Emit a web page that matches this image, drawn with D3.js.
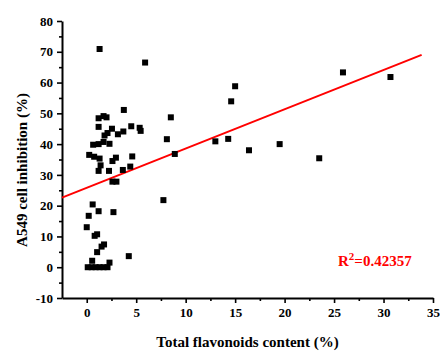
<!DOCTYPE html>
<html>
<head>
<meta charset="utf-8">
<script src="https://cdn.jsdelivr.net/npm/d3@7"></script>
<style>
  body { margin: 0; background: #fff; }
  text { font-family: "Liberation Serif", "Times New Roman", serif; font-weight: bold; }
</style>
</head>
<body>
<div id="grafico"></div>
<script>
// datos
const flavonoides = [
  1.3, 5.9, 3.75, 1.2, 1.7, 2.0, 1.2, 2.55, 1.8, 2.1,
  3.15, 3.7, 4.5, 5.35, 5.45, 0.65, 1.2, 1.7, 2.3, 0.25,
  0.75, 1.3, 1.4, 1.2, 2.6, 2.95, 4.6, 4.4, 3.65, 2.25,
  2.6, 3.0, 0.6, 0.2, 1.2, 2.7, 0.0, 0.8, 1.05, 1.5,
  1.75, 1.05, 4.25, 0.55, 2.3, 0.1, 0.5, 0.9, 1.3, 1.7,
  2.1, 15.0, 14.6, 8.5, 8.1, 8.9, 13.0, 14.3, 16.4, 7.75,
  25.9, 30.7, 19.5, 23.5
];
const inhibicion = [
  70.9, 66.5, 51.1, 48.4, 49.1, 48.7, 45.6, 45.0, 42.8, 43.6,
  43.2, 44.1, 45.8, 45.3, 44.3, 39.8, 40.0, 40.7, 40.1, 36.5,
  35.9, 35.3, 33.1, 31.3, 34.5, 35.6, 36.0, 32.7, 31.6, 31.3,
  27.8, 27.8, 20.4, 16.7, 18.2, 17.9, 13.0, 10.2, 10.7, 6.7,
  7.4, 4.9, 3.6, 2.1, 1.5, 0, 0, 0, 0, 0,
  0, 58.8, 53.9, 48.7, 41.6, 36.8, 40.9, 41.7, 38.0, 21.8,
  63.3, 61.8, 40.0, 35.4
];

// recta de ajuste (extremos)
const ajusteX = [-2.5, 33.85];
const ajusteY = [22.6, 69.0];
const r2Texto = "=0.42357";

const ticksX = [0, 5, 10, 15, 20, 25, 30, 35];
const ticksXMenores = [2.5, 7.5, 12.5, 17.5, 22.5, 27.5, 32.5];
const ticksY = [-10, 0, 10, 20, 30, 40, 50, 60, 70, 80];
const ticksYMenores = [-5, 5, 15, 25, 35, 45, 55, 65, 75];

const tituloX = "Total flavonoids content (%)";
const tituloY = "A549 cell inhibition (%)";

document.addEventListener("DOMContentLoaded", () => {
  const ancho = 440, alto = 352;
  const margin = { top: 21, right: 7, bottom: 54, left: 62 };

  const svg = d3.select("#grafico")
    .append("svg")
    .attr("width", ancho)
    .attr("height", alto);

  const x = d3.scaleLinear().domain([-2.5, 35]).range([margin.left, ancho - margin.right]);
  const y = d3.scaleLinear().domain([-10, 80]).range([alto - margin.bottom, margin.top]);

  // Ejes
  const ejeX = svg.append("g")
    .attr("transform", `translate(0,${alto - margin.bottom})`)
    .call(d3.axisBottom(x).tickValues(ticksX).tickSize(5).tickSizeOuter(0).tickPadding(5).tickFormat(d => String(d)));
  svg.append("g")
    .attr("transform", `translate(0,${alto - margin.bottom})`)
    .call(d3.axisBottom(x).tickValues(ticksXMenores).tickSize(3).tickSizeOuter(0).tickFormat(""))
    .select(".domain").remove();

  const ejeY = svg.append("g")
    .attr("transform", `translate(${margin.left},0)`)
    .call(d3.axisLeft(y).tickValues(ticksY).tickSize(5).tickSizeOuter(0).tickPadding(4).tickFormat(d => String(d)));
  svg.append("g")
    .attr("transform", `translate(${margin.left},0)`)
    .call(d3.axisLeft(y).tickValues(ticksYMenores).tickSize(3).tickSizeOuter(0).tickFormat(""))
    .select(".domain").remove();

  svg.selectAll(".domain").attr("stroke", "#000").attr("stroke-width", 2);
  svg.selectAll(".tick line").attr("stroke", "#000").attr("stroke-width", 1.6);
  svg.selectAll(".tick text")
    .attr("fill", "#000")
    .style("font-size", "13px")
    .style("font-family", "'Liberation Serif', serif")
    .style("font-weight", "bold");

  // Títulos
  svg.append("text")
    .attr("x", (x.range()[0] + x.range()[1]) / 2)
    .attr("y", 347)
    .attr("text-anchor", "middle")
    .style("font-size", "15px")
    .text(tituloX);

  svg.append("text")
    .attr("transform", "translate(27,170) rotate(-90)")
    .attr("text-anchor", "middle")
    .style("font-size", "15px")
    .text(tituloY);

  // Recta de regresión
  const linea = d3.line()
    .x(d => x(d[0]))
    .y(d => y(d[1]));

  svg.append("path")
    .datum(ajusteX.map((v, i) => [v, ajusteY[i]]))
    .attr("fill", "none")
    .attr("stroke", "#ff0000")
    .attr("stroke-width", 2)
    .attr("d", linea);

  // Puntos
  const lado = 6;
  svg.selectAll("rect.punto")
    .data(flavonoides.map((v, i) => ({ x: v, y: inhibicion[i] })))
    .enter()
    .append("rect")
    .attr("class", "punto")
    .attr("x", d => x(d.x) - lado / 2)
    .attr("y", d => y(d.y) - lado / 2)
    .attr("width", lado)
    .attr("height", lado)
    .attr("fill", "#000");

  // R²
  const r2 = svg.append("text")
    .attr("x", 338)
    .attr("y", 266)
    .attr("fill", "#ff0000")
    .style("font-size", "15px");
  r2.append("tspan").text("R");
  r2.append("tspan").attr("dy", -6).style("font-size", "11px").text("2");
  r2.append("tspan").attr("dy", 6).text(r2Texto);
});
</script>
</body>
</html>
